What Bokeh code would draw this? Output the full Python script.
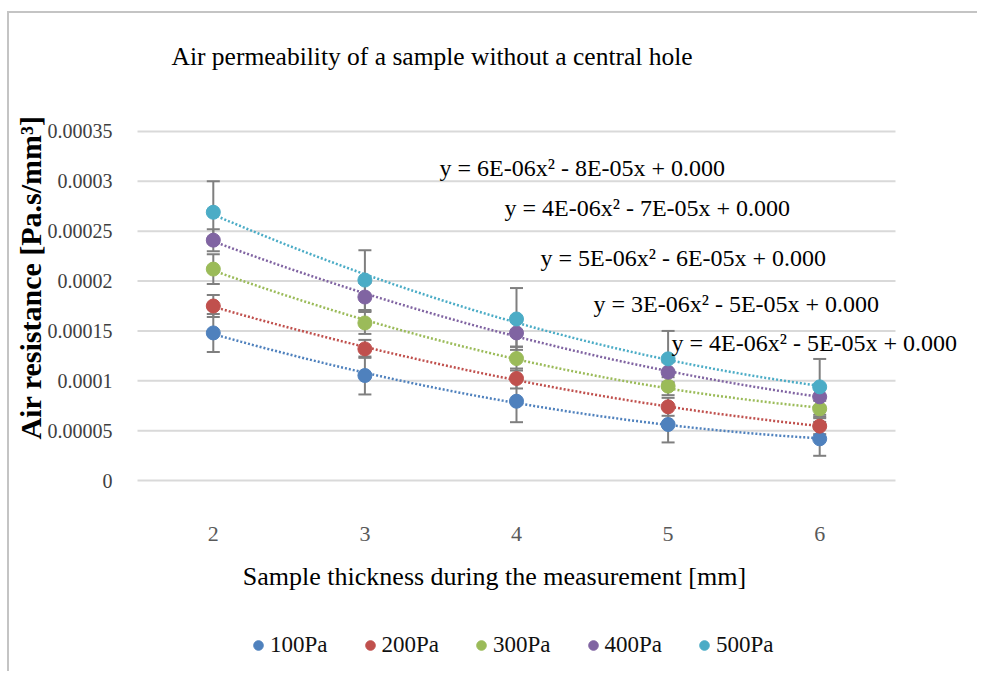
import numpy as np
from bokeh.plotting import figure
from bokeh.models import (ColumnDataSource, Range1d, FixedTicker, CustomJSTickFormatter,
                          Whisker, TeeHead, Label, Legend, LegendItem)
from bokeh.embed import file_html
from bokeh.resources import INLINE

# ---------------- data ----------------
thickness = [2, 3, 4, 5, 6]
x_tick_labels = ["2", "3", "4", "5", "6"]
series_names = ["100Pa", "200Pa", "300Pa", "400Pa", "500Pa"]
res_100 = [0.000148, 0.0001053, 0.0000795, 0.0000562, 0.0000418]
res_200 = [0.000175, 0.000132, 0.0001023, 0.0000739, 0.0000545]
res_300 = [0.000212, 0.000158, 0.0001223, 0.0000946, 0.0000719]
res_400 = [0.000241, 0.000184, 0.000148, 0.0001086, 0.0000839]
res_500 = [0.000269, 0.000201, 0.000162, 0.000122, 0.0000939]
err_100 = [0.000019, 0.000019, 0.000021, 0.000018, 0.000017]
err_200 = [0.000011, 0.000009, 0.000010, 0.000009, 0.000008]
err_300 = [0.000015, 0.000011, 0.000012, 0.000009, 0.000008]
err_400 = [0.000011, 0.000014, 0.000014, 0.000010, 0.000009]
err_500 = [0.000031, 0.000030, 0.000031, 0.000028, 0.000028]
y_ticks = [0, 0.00005, 0.0001, 0.00015, 0.0002, 0.00025, 0.0003, 0.00035]
y_tick_labels = ["0", "0.00005", "0.0001", "0.00015", "0.0002", "0.00025", "0.0003", "0.00035"]
equations = ["y = 6E-06x\u00b2 - 8E-05x + 0.000",
             "y = 4E-06x\u00b2 - 7E-05x + 0.000",
             "y = 5E-06x\u00b2 - 6E-05x + 0.000",
             "y = 3E-06x\u00b2 - 5E-05x + 0.000",
             "y = 4E-06x\u00b2 - 5E-05x + 0.000"]
title_text = "Air permeability of a sample without a central hole"
x_title = "Sample thickness during the measurement [mm]"
y_title = "Air resistance [Pa.s/mm\u00b3]"

# ---------------- styles / layout ----------------
colors = ["#4F81BD", "#C0504D", "#9BBB59", "#8064A2", "#4BACC6"]
serif = "Liberation Serif"
cat_lo, cat_hi = 1.5, 6.5                 # category axis extent (plot area)
y_lo, y_hi = 0, 0.00035                   # value axis extent (plot area)
view_x = (0.6557, 7.0541)                 # whole canvas in data units
view_y = (-0.0001935, 0.0004683)
# screen positions (px from canvas bottom-left) of the free texts
eq_pos = [(430, 506), (495, 466), (531, 416), (584, 370), (662, 331)]
title_pos = (162, 617)
x_title_pos = (485, 97)
y_title_pos = (21, 396)

p = figure(width=970, height=660, output_backend="svg", toolbar_location=None,
           x_range=Range1d(*view_x), y_range=Range1d(*view_y),
           min_border_left=0, min_border_right=0, min_border_top=0, min_border_bottom=0)
p.styles = {"border-left": "2px solid #c4c4c4", "border-top": "2px solid #c4c4c4",
            "margin-top": "11px", "margin-left": "7px"}
p.outline_line_color = None
p.background_fill_color = "white"
p.border_fill_color = "white"
p.xgrid.grid_line_color = None
p.ygrid.grid_line_color = None

# horizontal gridlines limited to the plot area
grid = p.segment(x0=[cat_lo] * len(y_ticks), x1=[cat_hi] * len(y_ticks), y0=y_ticks, y1=y_ticks,
                 line_color="#d9d9d9", line_width=2)
grid.level = "image"

# axes fixed at the plot area's edges
p.yaxis.fixed_location = cat_lo
p.xaxis.fixed_location = y_lo
p.yaxis.bounds = (y_lo, y_hi)
p.xaxis.bounds = (cat_lo, cat_hi)
p.yaxis.ticker = FixedTicker(ticks=y_ticks)
p.yaxis.formatter = CustomJSTickFormatter(args=dict(tv=y_ticks, lab=y_tick_labels), code="""
let best = 0;
for (let i = 0; i < tv.length; i++) {
  if (Math.abs(tv[i] - tick) < Math.abs(tv[best] - tick)) best = i;
}
return lab[best];
""")
p.xaxis.ticker = FixedTicker(ticks=thickness)
p.xaxis.major_label_overrides = {t: l for t, l in zip(thickness, x_tick_labels)}
for ax in (p.xaxis, p.yaxis):
    ax.axis_line_color = None
    ax.major_tick_line_color = None
    ax.minor_tick_line_color = None
p.yaxis.major_label_text_font = "Liberation Sans Narrow"
p.yaxis.major_label_text_font_size = "20px"
p.yaxis.major_label_text_color = "#404040"
p.yaxis.major_label_standoff = 19
p.xaxis.major_label_text_font = serif
p.xaxis.major_label_text_font_size = "22px"
p.xaxis.major_label_text_color = "#595959"
p.xaxis.major_label_standoff = 40

all_res = [res_100, res_200, res_300, res_400, res_500]
all_err = [err_100, err_200, err_300, err_400, err_500]
xs = np.array(thickness, dtype=float)
xfine = np.linspace(2, 6, 200)

# error bars (under markers)
for res, err in zip(all_res, all_err):
    r = np.array(res); e = np.array(err)
    src = ColumnDataSource(dict(x=thickness, upper=r + e, lower=r - e))
    w = Whisker(source=src, base="x", upper="upper", lower="lower",
                line_color="#7f7f7f", line_width=2, level="underlay",
                upper_head=TeeHead(size=13, line_color="#7f7f7f", line_width=2),
                lower_head=TeeHead(size=13, line_color="#7f7f7f", line_width=2))
    p.add_layout(w)

# polynomial trendlines
for res, c in zip(all_res, colors):
    coef = np.polyfit(xs, np.array(res), 2)
    p.line(xfine, np.polyval(coef, xfine), line_color=c, line_width=2.5, line_dash="2 2")

items = []
for res, c, name in zip(all_res, colors, series_names):
    r = p.scatter(thickness, res, size=14, fill_color=c, line_color=c)
    items.append(LegendItem(label=name, renderers=[r]))

for (ex, ey), txt in zip(eq_pos, equations):
    p.add_layout(Label(x=ex, y=ey, x_units="screen", y_units="screen", text=txt,
                       text_font=serif, text_font_size="24px", text_color="#000000",
                       text_align="left", text_baseline="middle"))

p.add_layout(Label(x=title_pos[0], y=title_pos[1], x_units="screen", y_units="screen",
                   text=title_text, text_font=serif, text_font_size="25.5px",
                   text_color="#000000", text_align="left", text_baseline="middle"))
p.add_layout(Label(x=x_title_pos[0], y=x_title_pos[1], x_units="screen", y_units="screen",
                   text=x_title, text_font=serif, text_font_size="26px",
                   text_color="#000000", text_align="center", text_baseline="middle"))
p.add_layout(Label(x=y_title_pos[0], y=y_title_pos[1], x_units="screen", y_units="screen",
                   text=y_title, text_font=serif, text_font_size="30px", text_font_style="bold",
                   text_color="#000000", angle=np.pi / 2,
                   text_align="center", text_baseline="middle"))

legend = Legend(items=items, orientation="horizontal", location=(237, 15),
                glyph_width=24, glyph_height=24, label_standoff=-2, spacing=30,
                padding=0, margin=0, border_line_color=None, background_fill_alpha=0,
                label_text_font=serif, label_text_font_size="23px", label_text_color="#111111")
p.add_layout(legend)

open("out.html", "w").write(file_html(p, INLINE))
